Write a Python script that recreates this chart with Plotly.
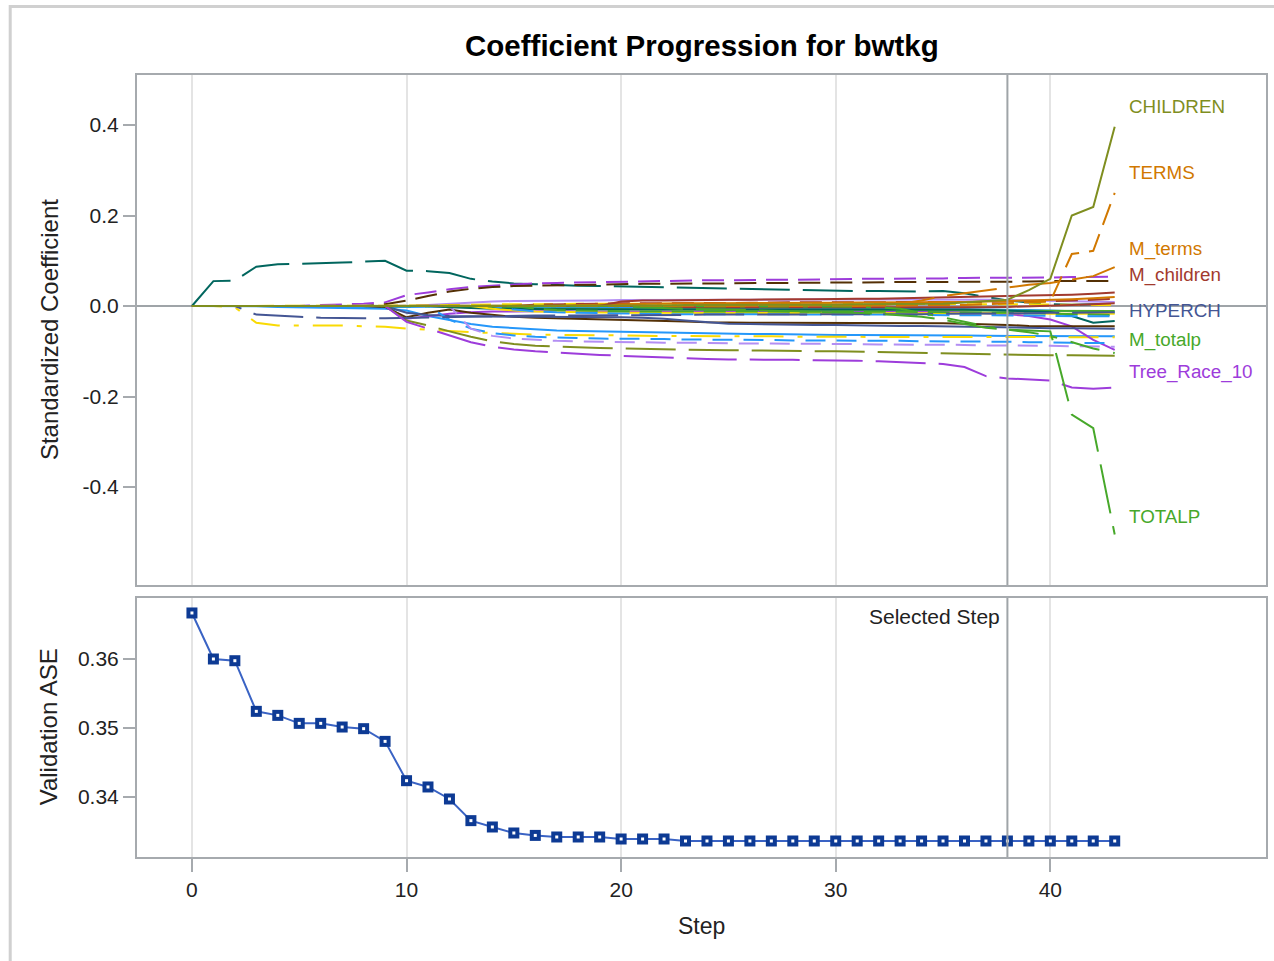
import plotly.graph_objects as go

# ---------------- data ----------------
steps = list(range(44))
selected_step = 38

validation_ase = [
    0.36667, 0.36000, 0.35975, 0.35241, 0.35183, 0.35067, 0.35067, 0.35014, 0.34990, 0.34806, 0.34236,
    0.34145, 0.33971, 0.33657, 0.33565, 0.33478, 0.33443, 0.33420, 0.33420, 0.33420, 0.33391, 0.33391,
    0.33391, 0.33362, 0.33362, 0.33362, 0.33362, 0.33362, 0.33362, 0.33362, 0.33362, 0.33362, 0.33362,
    0.33362, 0.33362, 0.33362, 0.33362, 0.33362, 0.33362, 0.33362, 0.33362, 0.33362, 0.33362, 0.33362]

# unlabeled effects
eff_teal_ld = [
    0, 0.055, 0.056, 0.087, 0.092, 0.093, 0.094, 0.096, 0.098, 0.100, 0.078,
    0.077, 0.073, 0.060, 0.054, 0.050, 0.048, 0.046, 0.045, 0.044, 0.043, 0.042,
    0.041, 0.040, 0.039, 0.038, 0.037, 0.037, 0.036, 0.035, 0.034, 0.033, 0.033,
    0.032, 0.032, 0.033, 0.028, 0.020, 0.012, 0.008, 0.004, 0.003, 0.004, 0.005]
eff_purple_d = [
    0, 0, 0, 0, 0, 0, 0.002, 0.003, 0.005, 0.008, 0.024,
    0.030, 0.037, 0.042, 0.045, 0.048, 0.050, 0.051, 0.052, 0.053, 0.054, 0.055,
    0.056, 0.056, 0.057, 0.057, 0.058, 0.058, 0.058, 0.059, 0.059, 0.060, 0.060,
    0.060, 0.061, 0.061, 0.062, 0.062, 0.062, 0.063, 0.063, 0.064, 0.065, 0.065]
eff_brown_d = [
    0, 0, 0, 0, 0, 0, 0, 0, 0, 0.004, 0.012,
    0.022, 0.032, 0.038, 0.042, 0.044, 0.045, 0.046, 0.047, 0.048, 0.048, 0.049,
    0.049, 0.050, 0.050, 0.050, 0.051, 0.051, 0.051, 0.052, 0.052, 0.052, 0.053,
    0.053, 0.053, 0.053, 0.054, 0.054, 0.054, 0.054, 0.055, 0.055, 0.055, 0.055]
eff_lavender = [
    0, 0, 0, 0, 0, 0, 0, 0, 0, 0, 0,
    0.002, 0.005, 0.008, 0.010, 0.011, 0.011, 0.012, 0.012, 0.012, 0.013, 0.013,
    0.013, 0.013, 0.014, 0.014, 0.014, 0.014, 0.014, 0.015, 0.015, 0.015, 0.015,
    0.015, 0.015, 0.015, 0.015, 0.014, 0.013, 0.012, 0.011, 0.010, 0.010, 0.009]
eff_blue_desc = [
    0, 0, 0, 0, -0.002, -0.003, -0.004, -0.004, -0.005, -0.006, -0.010,
    -0.022, -0.031, -0.040, -0.046, -0.049, -0.052, -0.054, -0.055, -0.056, -0.057, -0.058,
    -0.058, -0.059, -0.060, -0.061, -0.062, -0.062, -0.063, -0.063, -0.064, -0.064, -0.064,
    -0.065, -0.065, -0.065, -0.065, -0.066, -0.066, -0.066, -0.066, -0.067, -0.067, -0.067]
eff_blue_zero = [
    0, 0, 0, 0, 0, 0, -0.001, -0.002, -0.003, -0.003, -0.002,
    -0.001, -0.001, -0.001, -0.002, -0.002, -0.002, -0.002, -0.002, -0.003, -0.003, -0.003,
    -0.004, -0.004, -0.004, -0.004, -0.005, -0.005, -0.005, -0.005, -0.006, -0.006, -0.006,
    -0.006, -0.007, -0.007, -0.007, -0.008, -0.008, -0.009, -0.010, -0.012, -0.014, -0.015]
eff_yellow_dd = [
    0, 0, -0.003, -0.037, -0.043, -0.043, -0.042, -0.043, -0.045, -0.046, -0.050,
    -0.052, -0.055, -0.058, -0.060, -0.062, -0.063, -0.064, -0.064, -0.065, -0.065, -0.066,
    -0.066, -0.066, -0.067, -0.067, -0.067, -0.067, -0.068, -0.068, -0.068, -0.068, -0.068,
    -0.068, -0.068, -0.068, -0.068, -0.068, -0.068, -0.069, -0.069, -0.069, -0.069, -0.069]
eff_purple_s = [
    0, 0, 0, 0, 0, 0, 0, 0, 0, 0, -0.028,
    -0.022, -0.017, -0.014, -0.012, -0.012, -0.011, -0.011, -0.012, -0.012, -0.012, -0.012,
    -0.012, -0.013, -0.013, -0.012, -0.012, -0.012, -0.013, -0.013, -0.013, -0.012, -0.012,
    -0.012, -0.012, -0.013, -0.014, -0.016, -0.018, -0.022, -0.030, -0.045, -0.075, -0.097]
eff_yellow_d = [
    0, 0, 0, 0, 0, 0, 0, 0, 0, 0, 0,
    0.001, 0.002, 0.003, 0.004, 0.004, 0.004, 0.005, 0.005, 0.005, 0.005, 0.005,
    0.005, 0.005, 0.005, 0.005, 0.005, 0.005, 0.005, 0.005, 0.005, 0.005, 0.005,
    0.005, 0.005, 0.005, 0.005, 0.004, 0.004, 0.004, 0.003, 0.003, 0.003, 0.002]
eff_brown_s = [
    0, 0, 0, 0, 0, 0, 0, 0, 0, -0.002, -0.025,
    -0.015, -0.008, -0.015, -0.020, -0.024, -0.026, -0.027, -0.028, -0.029, -0.030, -0.031,
    -0.032, -0.034, -0.036, -0.037, -0.037, -0.037, -0.037, -0.037, -0.037, -0.037, -0.037,
    -0.038, -0.038, -0.038, -0.039, -0.040, -0.042, -0.044, -0.045, -0.045, -0.045, -0.045]
eff_slate_s = [
    0, 0, 0, 0, 0, 0, 0, 0, 0, 0, -0.015,
    -0.020, -0.022, -0.023, -0.024, -0.024, -0.024, -0.024, -0.024, -0.024, -0.025, -0.026,
    -0.028, -0.032, -0.036, -0.039, -0.040, -0.041, -0.042, -0.042, -0.042, -0.043, -0.043,
    -0.044, -0.044, -0.045, -0.046, -0.047, -0.048, -0.048, -0.049, -0.049, -0.050, -0.050]
eff_olive_ld = [
    0, 0, 0, 0, 0, 0, 0, 0, 0, 0, -0.032,
    -0.043, -0.056, -0.068, -0.078, -0.084, -0.088, -0.090, -0.092, -0.093, -0.094, -0.095,
    -0.096, -0.097, -0.097, -0.098, -0.098, -0.099, -0.099, -0.100, -0.100, -0.101, -0.101,
    -0.102, -0.103, -0.104, -0.106, -0.107, -0.108, -0.108, -0.109, -0.109, -0.110, -0.110]
eff_blue_d = [
    0, 0, 0, 0, 0, 0, 0, 0, 0, 0, 0,
    0, -0.030, -0.050, -0.060, -0.065, -0.068, -0.070, -0.071, -0.072, -0.072, -0.073,
    -0.073, -0.074, -0.074, -0.075, -0.075, -0.075, -0.076, -0.076, -0.076, -0.077, -0.077,
    -0.077, -0.078, -0.078, -0.078, -0.079, -0.079, -0.080, -0.080, -0.081, -0.082, -0.082]
eff_lavender_d = [
    0, 0, 0, 0, 0, 0, 0, 0, 0, 0, 0,
    0, 0, -0.050, -0.066, -0.072, -0.075, -0.077, -0.078, -0.079, -0.080, -0.080,
    -0.081, -0.081, -0.082, -0.082, -0.083, -0.083, -0.083, -0.084, -0.084, -0.084, -0.085,
    -0.085, -0.085, -0.086, -0.086, -0.087, -0.087, -0.088, -0.088, -0.089, -0.089, -0.090]
eff_brick_d = [
    0, 0, 0, 0, 0, 0, 0, 0, 0, 0, 0,
    0, 0, 0, 0, 0, 0.003, 0.004, 0.005, 0.005, 0.006, 0.006,
    0.006, 0.007, 0.007, 0.007, 0.007, 0.008, 0.008, 0.008, 0.008, 0.008, 0.008,
    0.008, 0.008, 0.009, 0.009, 0.009, 0.010, 0.010, 0.011, 0.012, 0.014, 0.016]
eff_green_s = [
    0, 0, 0, 0, 0, 0, 0, 0, 0, 0, 0,
    0, 0, 0, -0.003, -0.005, -0.006, -0.006, -0.007, -0.007, -0.007, -0.008,
    -0.008, -0.008, -0.008, -0.008, -0.008, -0.008, -0.009, -0.009, -0.009, -0.009, -0.009,
    -0.009, -0.009, -0.009, -0.010, -0.010, -0.010, -0.010, -0.010, -0.011, -0.011, -0.011]
eff_teal_s = [
    0, 0, 0, 0, 0, 0, 0, 0, 0, 0, 0,
    0, -0.003, -0.005, -0.006, -0.006, -0.007, -0.007, -0.007, -0.007, -0.007, -0.007,
    -0.007, -0.007, -0.007, -0.007, -0.007, -0.007, -0.007, -0.007, -0.007, -0.007, -0.007,
    -0.007, -0.007, -0.008, -0.008, -0.009, -0.010, -0.011, -0.013, -0.022, -0.037, -0.033]
eff_yellow_s = [
    0, 0, 0, 0, 0, 0, 0, 0, 0, 0, 0,
    0, 0, 0, -0.006, -0.010, -0.012, -0.013, -0.014, -0.014, -0.015, -0.015,
    -0.015, -0.015, -0.015, -0.015, -0.015, -0.015, -0.015, -0.015, -0.015, -0.015, -0.015,
    -0.015, -0.016, -0.016, -0.016, -0.016, -0.016, -0.016, -0.017, -0.017, -0.017, -0.017]
eff_orange_s = [
    0, 0, 0, 0, 0, 0, 0, 0, 0, 0, 0,
    0, 0, 0, 0, 0, 0, 0, 0.002, 0.003, 0.004, 0.005,
    0.005, 0.006, 0.006, 0.006, 0.007, 0.007, 0.007, 0.007, 0.007, 0.008, 0.008,
    0.008, 0.008, 0.009, 0.009, 0.010, 0.011, 0.012, 0.013, 0.015, 0.017, 0.020]
eff_green_d = [
    0, 0, 0, 0, 0, 0, 0, 0, 0, 0, 0,
    0, 0, 0, 0, 0, -0.006, -0.009, -0.010, -0.011, -0.011, -0.012,
    -0.012, -0.012, -0.012, -0.012, -0.013, -0.013, -0.013, -0.013, -0.013, -0.013, -0.013,
    -0.013, -0.013, -0.014, -0.014, -0.014, -0.015, -0.016, -0.017, -0.018, -0.019, -0.020]
eff_brick_s = [
    0, 0, 0, 0, 0, 0, 0, 0, 0, 0, 0,
    0, 0, 0, 0, 0, 0, 0, 0, 0, 0, 0,
    -0.002, -0.003, -0.003, -0.003, -0.003, -0.004, -0.004, -0.004, -0.004, -0.004, -0.004,
    -0.004, -0.004, -0.004, -0.004, -0.003, -0.002, -0.001, 0.000, 0.002, 0.004, 0.006]
eff_blue_s2 = [
    0, 0, 0, 0, 0, 0, 0, 0, 0, 0, 0,
    0, 0, 0, 0, -0.008, -0.012, -0.014, -0.015, -0.016, -0.017, -0.017,
    -0.018, -0.018, -0.018, -0.018, -0.018, -0.019, -0.019, -0.019, -0.019, -0.019, -0.019,
    -0.019, -0.020, -0.020, -0.020, -0.020, -0.021, -0.021, -0.022, -0.022, -0.023, -0.023]

# labeled effects
CHILDREN = [
    0, 0, 0, 0, 0, 0, 0, 0, 0, 0, 0,
    0, 0, 0, 0, 0, 0, 0, 0, 0, 0.001, 0.001,
    0.001, 0.002, 0.002, 0.002, 0.002, 0.003, 0.003, 0.003, 0.003, 0.004, 0.004,
    0.004, 0.005, 0.005, 0.008, 0.011, 0.014, 0.035, 0.060, 0.200, 0.219, 0.396]
TERMS = [
    0, 0, 0, 0, 0, 0, 0, 0, 0, 0, 0,
    0, 0, 0, 0, 0, 0, 0, 0, 0, 0, 0,
    0, 0, 0, 0, 0, 0, 0.001, 0.001, 0.001, 0.001, 0.001,
    0.001, 0.002, 0.002, 0.002, 0.004, 0.006, 0.008, 0.010, 0.115, 0.122, 0.250]
M_terms = [
    0, 0, 0, 0, 0, 0, 0, 0, 0, 0, 0,
    0, 0, 0, 0, 0, 0, 0, 0, 0, 0, 0,
    0, 0, 0, 0, 0, 0, 0, 0, 0, 0, 0.002,
    0.005, 0.012, 0.022, 0.028, 0.034, 0.040, 0.047, 0.051, 0.058, 0.066, 0.086]
M_children = [
    0, 0, 0, 0, 0, 0, 0, 0, 0, 0, 0,
    0, 0, 0, 0, 0, 0, 0, 0, 0, 0.010, 0.012,
    0.012, 0.013, 0.013, 0.014, 0.014, 0.015, 0.015, 0.015, 0.016, 0.016, 0.016,
    0.017, 0.017, 0.018, 0.019, 0.020, 0.021, 0.022, 0.023, 0.025, 0.027, 0.030]
HYPERCH = [
    0, 0, 0, -0.019, -0.022, -0.024, -0.026, -0.027, -0.027, -0.027, -0.026,
    -0.025, -0.024, -0.023, -0.022, -0.022, -0.021, -0.021, -0.021, -0.020, -0.020, -0.020,
    -0.020, -0.020, -0.019, -0.019, -0.019, -0.019, -0.019, -0.018, -0.018, -0.018, -0.018,
    -0.018, -0.018, -0.017, -0.017, -0.017, -0.016, -0.016, -0.015, -0.015, -0.014, -0.014]
M_totalp = [
    0, 0, 0, 0, 0, 0, 0, 0, 0, 0, 0,
    0, 0, 0, 0, 0, 0, 0, 0, 0, 0, 0,
    0, 0, 0, 0, 0, 0, 0, 0, -0.001, -0.002, -0.003,
    -0.006, -0.015, -0.025, -0.035, -0.045, -0.052, -0.058, -0.066, -0.080, -0.094, -0.104]
Tree_Race_10 = [
    0, 0, 0, 0, 0, 0, 0, 0, 0, 0, -0.035,
    -0.050, -0.066, -0.080, -0.090, -0.096, -0.100, -0.103, -0.106, -0.108, -0.110, -0.112,
    -0.114, -0.116, -0.117, -0.118, -0.118, -0.119, -0.119, -0.120, -0.120, -0.121, -0.122,
    -0.124, -0.126, -0.128, -0.135, -0.155, -0.160, -0.163, -0.165, -0.180, -0.183, -0.180]
TOTALP = [
    0, 0, 0, 0, 0, 0, 0, 0, 0, 0, 0,
    0, 0, 0, 0, 0, 0, 0, 0, 0, 0, -0.003,
    -0.005, -0.006, -0.007, -0.008, -0.009, -0.010, -0.011, -0.012, -0.013, -0.015, -0.017,
    -0.020, -0.024, -0.030, -0.040, -0.048, -0.052, -0.054, -0.056, -0.240, -0.270, -0.505]

coef_series = {
    "Effect_teal_ld": eff_teal_ld, "Effect_purple_d": eff_purple_d, "Effect_brown_d": eff_brown_d,
    "Effect_lavender": eff_lavender, "Effect_blue_desc": eff_blue_desc, "Effect_blue_zero": eff_blue_zero,
    "Effect_yellow_dd": eff_yellow_dd, "Effect_purple_s": eff_purple_s, "Effect_yellow_d": eff_yellow_d,
    "Effect_brown_s": eff_brown_s, "Effect_slate_s": eff_slate_s, "Effect_olive_ld": eff_olive_ld,
    "Effect_blue_d": eff_blue_d, "Effect_lavender_d": eff_lavender_d, "Effect_brick_d": eff_brick_d,
    "Effect_green_s": eff_green_s, "Effect_teal_s": eff_teal_s, "Effect_yellow_s": eff_yellow_s,
    "Effect_orange_s": eff_orange_s, "Effect_green_d": eff_green_d, "Effect_brick_s": eff_brick_s,
    "Effect_blue_s2": eff_blue_s2,
    "HYPERCH": HYPERCH, "M_children": M_children, "M_terms": M_terms, "M_totalp": M_totalp,
    "Tree_Race_10": Tree_Race_10, "TOTALP": TOTALP, "TERMS": TERMS, "CHILDREN": CHILDREN,
}
for _n, _v in coef_series.items():
    assert len(_v) == len(steps), (_n, len(_v))
assert len(validation_ase) == len(steps)

# ---------------- styles ----------------
C_SLATE, C_BRICK, C_TEAL, C_BROWN = "#445694", "#A23A2E", "#01665E", "#543005"
C_PURPLE, C_OLIVE, C_BLUE, C_ORANGE = "#9D3CDB", "#7F8E1F", "#2597FA", "#D17800"
C_GREEN, C_LAV, C_YELLOW = "#47A82A", "#B38EF3", "#F9DA04"
LD = "50px,13px"
MD = "22px,10px"
DD = "30px,14px,5px,14px"
SD = "20px,11px"

styles = {
    "Effect_teal_ld": (C_TEAL, LD), "Effect_purple_d": (C_PURPLE, MD), "Effect_brown_d": (C_BROWN, MD),
    "Effect_lavender": (C_LAV, "solid"), "Effect_blue_desc": (C_BLUE, "solid"),
    "Effect_blue_zero": (C_BLUE, "solid"), "Effect_yellow_dd": (C_YELLOW, DD),
    "Effect_purple_s": (C_PURPLE, "solid"), "Effect_yellow_d": (C_YELLOW, SD),
    "Effect_brown_s": (C_BROWN, "solid"), "Effect_slate_s": (C_SLATE, "solid"),
    "Effect_olive_ld": (C_OLIVE, LD), "Effect_blue_d": (C_BLUE, SD), "Effect_lavender_d": (C_LAV, SD),
    "Effect_brick_d": (C_BRICK, MD), "Effect_green_s": (C_GREEN, "solid"), "Effect_teal_s": (C_TEAL, "solid"),
    "Effect_yellow_s": (C_YELLOW, "solid"), "Effect_orange_s": (C_ORANGE, "solid"),
    "Effect_green_d": (C_GREEN, MD), "Effect_brick_s": (C_BRICK, "solid"), "Effect_blue_s2": (C_BLUE, MD),
    "HYPERCH": (C_SLATE, LD), "M_children": (C_BRICK, "solid"), "M_terms": (C_ORANGE, LD),
    "M_totalp": (C_GREEN, DD), "Tree_Race_10": (C_PURPLE, LD), "TOTALP": (C_GREEN, LD),
    "TERMS": (C_ORANGE, MD), "CHILDREN": (C_OLIVE, "solid"),
}

labels = [  # name, label y position (data units), colour
    ("CHILDREN", 0.440, C_OLIVE), ("TERMS", 0.294, C_ORANGE), ("M_terms", 0.126, C_ORANGE),
    ("M_children", 0.0685, C_BRICK), ("HYPERCH", -0.011, C_SLATE), ("M_totalp", -0.075, C_GREEN),
    ("Tree_Race_10", -0.146, C_PURPLE), ("TOTALP", -0.466, C_GREEN),
]

FONT = "Liberation Sans, Arial, sans-serif"
FRAME = "#A6AAAE"
GRID = "#E4E4E4"
TXT = "#222222"

fig = go.Figure()
for name, vals in coef_series.items():
    col, dash = styles[name]
    fig.add_trace(go.Scatter(x=steps, y=vals, mode="lines", name=name,
                             line=dict(color=col, width=2, dash=dash),
                             xaxis="x", yaxis="y", showlegend=False))

fig.add_trace(go.Scatter(x=steps, y=validation_ase, mode="lines+markers", name="Validation ASE",
                         line=dict(color="#3A63C4", width=2),
                         marker=dict(symbol="square", size=11, color="#0D3A94"),
                         xaxis="x2", yaxis="y2", showlegend=False))
fig.add_trace(go.Scatter(x=steps, y=validation_ase, mode="markers", hoverinfo="skip",
                         marker=dict(symbol="square", size=3, color="white"),
                         xaxis="x2", yaxis="y2", showlegend=False))

x_range = [-2.56, 50.05]
common_x = dict(range=x_range, showgrid=True, gridcolor=GRID, gridwidth=2, zeroline=False,
                tickvals=[0, 10, 20, 30, 40], showline=True, linecolor=FRAME, linewidth=2, mirror=True)
common_y = dict(showgrid=False, zeroline=False, showline=True, linecolor=FRAME, linewidth=2, mirror=True,
                ticks="outside", ticklen=12, tickwidth=2, tickcolor=FRAME,
                tickfont=dict(family=FONT, size=21, color=TXT))

fig.update_layout(
    width=1274, height=961,
    margin=dict(l=137, r=6, t=75, b=104),
    paper_bgcolor="white", plot_bgcolor="white", showlegend=False,
    xaxis=dict(**common_x, anchor="y", showticklabels=False, ticks=""),
    yaxis=dict(**common_y, domain=[0.3478, 1.0], range=[-0.6166, 0.5105],
               tickvals=[-0.4, -0.2, 0.0, 0.2, 0.4], ticktext=["-0.4", "-0.2", "0.0", "0.2", "0.4"]),
    xaxis2=dict(**common_x, anchor="y2", matches="x", ticks="outside", ticklen=13, tickwidth=2,
                tickcolor=FRAME, tickfont=dict(family=FONT, size=21, color=TXT)),
    yaxis2=dict(**common_y, domain=[0.0, 0.3312], range=[0.3313, 0.36884],
                tickvals=[0.34, 0.35, 0.36], ticktext=["0.34", "0.35", "0.36"]),
)

shapes = [
    dict(type="line", xref="paper", x0=0, x1=1, yref="y", y0=0, y1=0,
         line=dict(color="#9FA4A8", width=2), layer="below"),
    dict(type="line", xref="x", x0=selected_step, x1=selected_step, yref="y domain", y0=0, y1=1,
         line=dict(color="#9FA4A8", width=2), layer="above"),
    dict(type="line", xref="x2", x0=selected_step, x1=selected_step, yref="y2 domain", y0=0, y1=1,
         line=dict(color="#9FA4A8", width=2), layer="above"),
    dict(type="rect", xref="paper", yref="paper", x0=-0.1123, x1=1.03, y0=-0.2, y1=1.0876,
         line=dict(color="#D0D0D0", width=3), fillcolor="rgba(0,0,0,0)", layer="below"),
]
fig.update_layout(shapes=shapes)

annotations = [
    dict(text="<b>Coefficient Progression for bwtkg</b>", xref="paper", yref="paper", x=0.5, y=1.0371,
         xanchor="center", yanchor="middle", showarrow=False, font=dict(family=FONT, size=29.5, color="#000000")),
    dict(text="Standardized Coefficient", xref="paper", yref="paper", x=-0.0769, y=0.674, textangle=-90,
         xanchor="center", yanchor="middle", showarrow=False, font=dict(family=FONT, size=24, color=TXT)),
    dict(text="Validation ASE", xref="paper", yref="paper", x=-0.0787, y=0.166, textangle=-90,
         xanchor="center", yanchor="middle", showarrow=False, font=dict(family=FONT, size=24, color=TXT)),
    dict(text="Step", xref="paper", yref="paper", x=0.5, y=-0.088,
         xanchor="center", yanchor="middle", showarrow=False, font=dict(family=FONT, size=23, color=TXT)),
    dict(text="Selected Step", xref="x2", yref="y2", x=37.75, y=0.36613,
         xanchor="right", yanchor="middle", showarrow=False, font=dict(family=FONT, size=21, color=TXT)),
]
for name, ly, col in labels:
    annotations.append(dict(text=name, xref="x", yref="y", x=43.55, y=ly, xanchor="left", yanchor="middle",
                            showarrow=False, font=dict(family=FONT, size=18.8, color=col)))
fig.update_layout(annotations=annotations)

fig.write_html("out.html")
